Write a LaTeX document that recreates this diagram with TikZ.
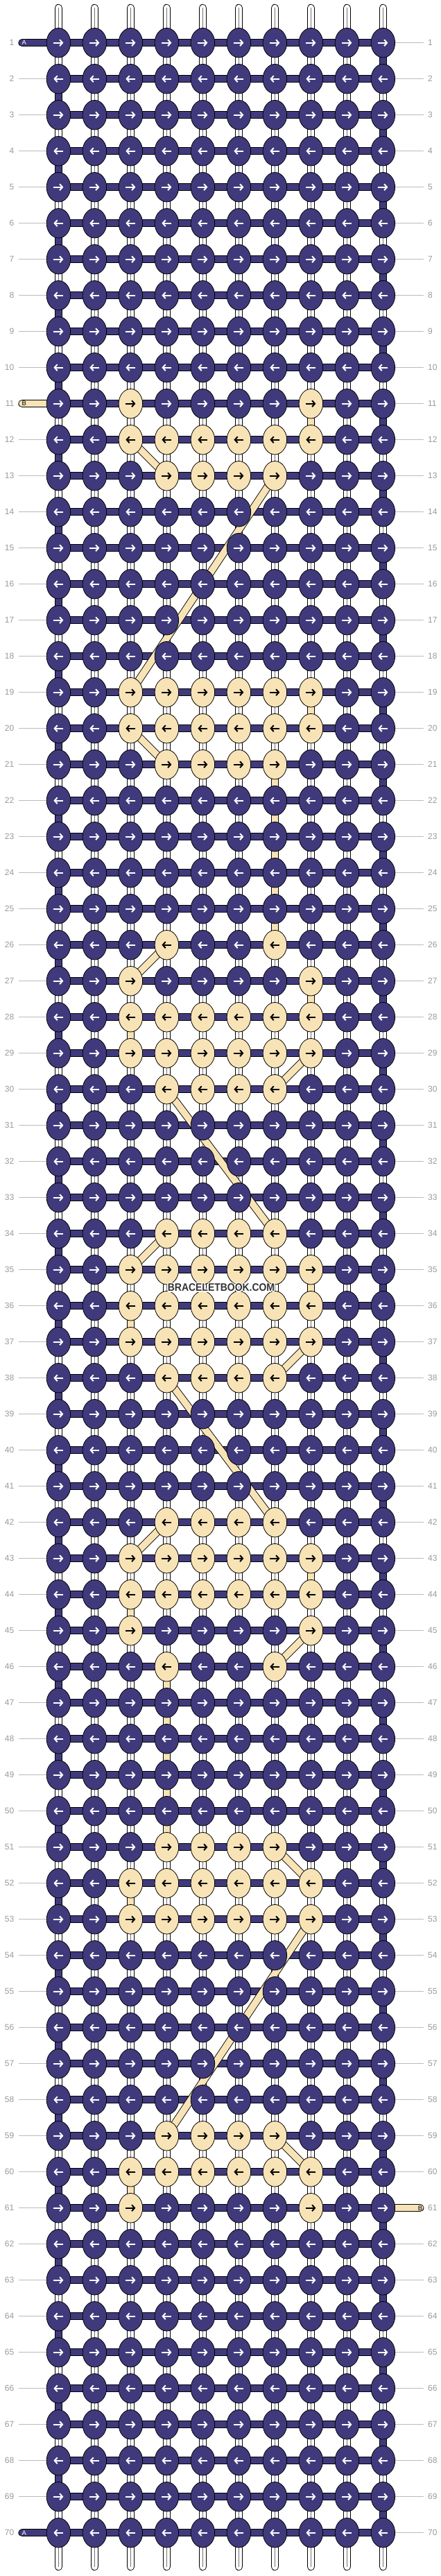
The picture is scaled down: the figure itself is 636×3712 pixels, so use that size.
\documentclass[tikz,border=0pt]{standalone}
\usepackage{fontspec}
\usepackage{graphicx}
\setmainfont{Liberation Sans}
\usetikzlibrary{arrows.meta,backgrounds,shapes.geometric}
\definecolor{threadA}{HTML}{403A7C}
\definecolor{threadB}{HTML}{F7E3B6}
\definecolor{rowgray}{HTML}{9A9A9A}
\definecolor{rulegray}{HTML}{BBBBBB}
\tikzset{
  knotA/.style={ellipse, draw=black, line width=0.8pt, fill=threadA, minimum width=34.5pt, minimum height=42.5pt, inner sep=0pt},
  knotB/.style={knotA, fill=threadB},
  arrA/.style={white, line width=2pt, -{Straight Barb[length=4pt,width=9pt]}},
  arrB/.style={arrA, black},
  strW/.style={double=white, double distance=9.5pt, line width=0.9pt},
  strA/.style={double=threadA, double distance=9.5pt, line width=0.9pt},
  strB/.style={double=threadB, double distance=9.5pt, line width=0.9pt},
  midline/.style={black!55, line width=0.6pt},
  rowlab/.style={text=rowgray, font=\fontsize{12}{12}\selectfont, inner sep=3pt},
  rule/.style={rulegray, line width=1pt},
  stublab/.style={font=\fontsize{9.5}{10}\selectfont, inner sep=0pt},
  wmtext/.style={font=\fontsize{15.5}{16}\selectfont\bfseries, inner sep=0pt}
}
\def\sW{strW}
\begin{document}
\begin{tikzpicture}[x=1pt,y=-1pt]
\useasboundingbox (0,0) rectangle (636,3712);
\foreach \r/\cs in {11/{3,8},12/{3,...,8},13/{4,...,7},19/{3,...,8},20/{3,...,8},21/{4,...,7},26/{4,7},27/{3,8},28/{3,...,8},29/{3,...,8},30/{4,...,7},34/{4,...,7},35/{3,...,8},36/{3,...,8},37/{3,...,8},38/{4,...,7},42/{4,...,7},43/{3,...,8},44/{3,...,8},45/{3,8},46/{4,7},51/{4,...,7},52/{3,...,8},53/{3,...,8},59/{4,...,7},60/{3,...,8},61/{3,8}}
  {\foreach \c in \cs {\expandafter\xdef\csname lt-\r-\c\endcsname{1}}}
\foreach \r/\c in {11/8,19/8,21/7,22/7,23/7,24/7,25/7,27/8,28/3,35/8,36/3,43/8,44/3,46/4,47/4,48/4,49/4,50/4,52/3,60/3}
  {\expandafter\xdef\csname lv-\r-\c\endcsname{1}}

\foreach \r in {1,...,70}{
  \foreach \c in {1,...,10}{
    \ifcsname lt-\r-\c\endcsname\def\kstyle{knotB}\def\astyle{arrB}\else\def\kstyle{knotA}\def\astyle{arrA}\fi
    \node[\kstyle] (k-\r-\c) at ({32.4+52*\c},{9.7+52*\r}) {};
    \ifodd\r\relax
      \draw[\astyle] (k-\r-\c.center) ++(-7,0) -- ++(14,0);
    \else
      \draw[\astyle] (k-\r-\c.center) ++(7,0) -- ++(-14,0);
    \fi
  }
  \node[rowlab, anchor=east] (ll-\r) at (23.5,{9.7+52*\r}) {\r};
  \node[rowlab, anchor=west] (rl-\r) at (614,{9.7+52*\r}) {\r};
}

\node[stublab, text=white] (labA-in) at (34.7,61.7) {A};
\node[stublab, text=white] (labA-out) at (34.7,3649.7) {A};
\node[stublab, text=black] (labB-in) at (34.7,581.7) {B};
\node[stublab, text=black] (labB-out) at (606,3181.7) {B};

\foreach \dx/\dy in {-1.2/0,1.2/0,0/-1.2,0/1.2,-0.9/-0.9,0.9/0.9,-0.9/0.9,0.9/-0.9}
  \node[wmtext, text=white] at ({319+\dx},{1855.5+\dy}) {\scalebox{0.9}[1]{BRACELETBOOK.COM}};
\node[wmtext, text=black!80] (wm) at (319,1855.5) {\scalebox{0.9}[1]{BRACELETBOOK.COM}};

\begin{pgfonlayer}{background}
\fill[white] (0,0) rectangle (636,3712);
\foreach \r in {1,...,70}{
  \ifnum\r=1 \else\ifnum\r=11 \else\ifnum\r=70 \else
    \draw[rule, shorten <=3pt] (ll-\r.east) -- (k-\r-1.center);
  \fi\fi\fi
  \ifnum\r=61 \else
    \draw[rule, shorten >=3pt] (k-\r-10.center) -- (rl-\r.west);
  \fi
}
\foreach \c in {1,...,10}{
  \coordinate (t-\c) at ({32.4+52*\c},11.5);
  \coordinate (b-\c) at ({32.4+52*\c},3698.5);
  \draw[strW, line cap=round] (t-\c) -- (k-1-\c.center);
  \draw[midline] (t-\c) -- (k-1-\c.center);
  \draw[strW, line cap=round] (k-70-\c.center) -- (b-\c);
  \draw[midline] (k-70-\c.center) -- (b-\c);
}
\foreach \r [count=\rn from 2] in {1,...,69}{
  \foreach \c in {1,...,10}{
    \def\vs{strW}
    \ifnum\c=10 \ifodd\r\relax\def\vs{strA}\fi\fi
    \ifnum\c=1 \ifodd\r\relax\else\def\vs{strA}\fi\fi
    \ifcsname lv-\r-\c\endcsname\def\vs{strB}\fi
    \draw[\vs] (k-\r-\c.center) -- (k-\rn-\c.center);
    \ifx\vs\sW \draw[midline] (k-\r-\c.center) -- (k-\rn-\c.center); \fi
  }
}
\foreach \r in {1,...,70}
  \foreach \c [count=\cn from 2] in {1,...,9}
    \draw[strA] (k-\r-\c.center) -- (k-\r-\cn.center);
\coordinate (sA-in) at (32,61.7);
\coordinate (sA-out) at (32,3649.7);
\coordinate (sB-in) at (32,581.7);
\coordinate (sB-out) at (605.75,3181.7);
\draw[strA, line cap=round] (sA-in) -- (k-1-1.center);
\draw[strA, line cap=round] (sA-out) -- (k-70-1.center);
\draw[strB, line cap=round] (sB-in) -- (k-11-1.center);
\draw[strB, line cap=round] (k-61-10.center) -- (sB-out);
\foreach \ra/\ca/\rb/\cb in {12/3/13/4,13/7/19/3,20/3/21/4,26/4/27/3,29/8/30/7,30/4/34/7,34/4/35/3,37/8/38/7,38/4/42/7,42/4/43/3,45/8/46/7,51/7/52/8,53/8/59/4,59/7/60/8}
  \draw[strB] (k-\ra-\ca.center) -- (k-\rb-\cb.center);
\end{pgfonlayer}
\end{tikzpicture}
\end{document}
